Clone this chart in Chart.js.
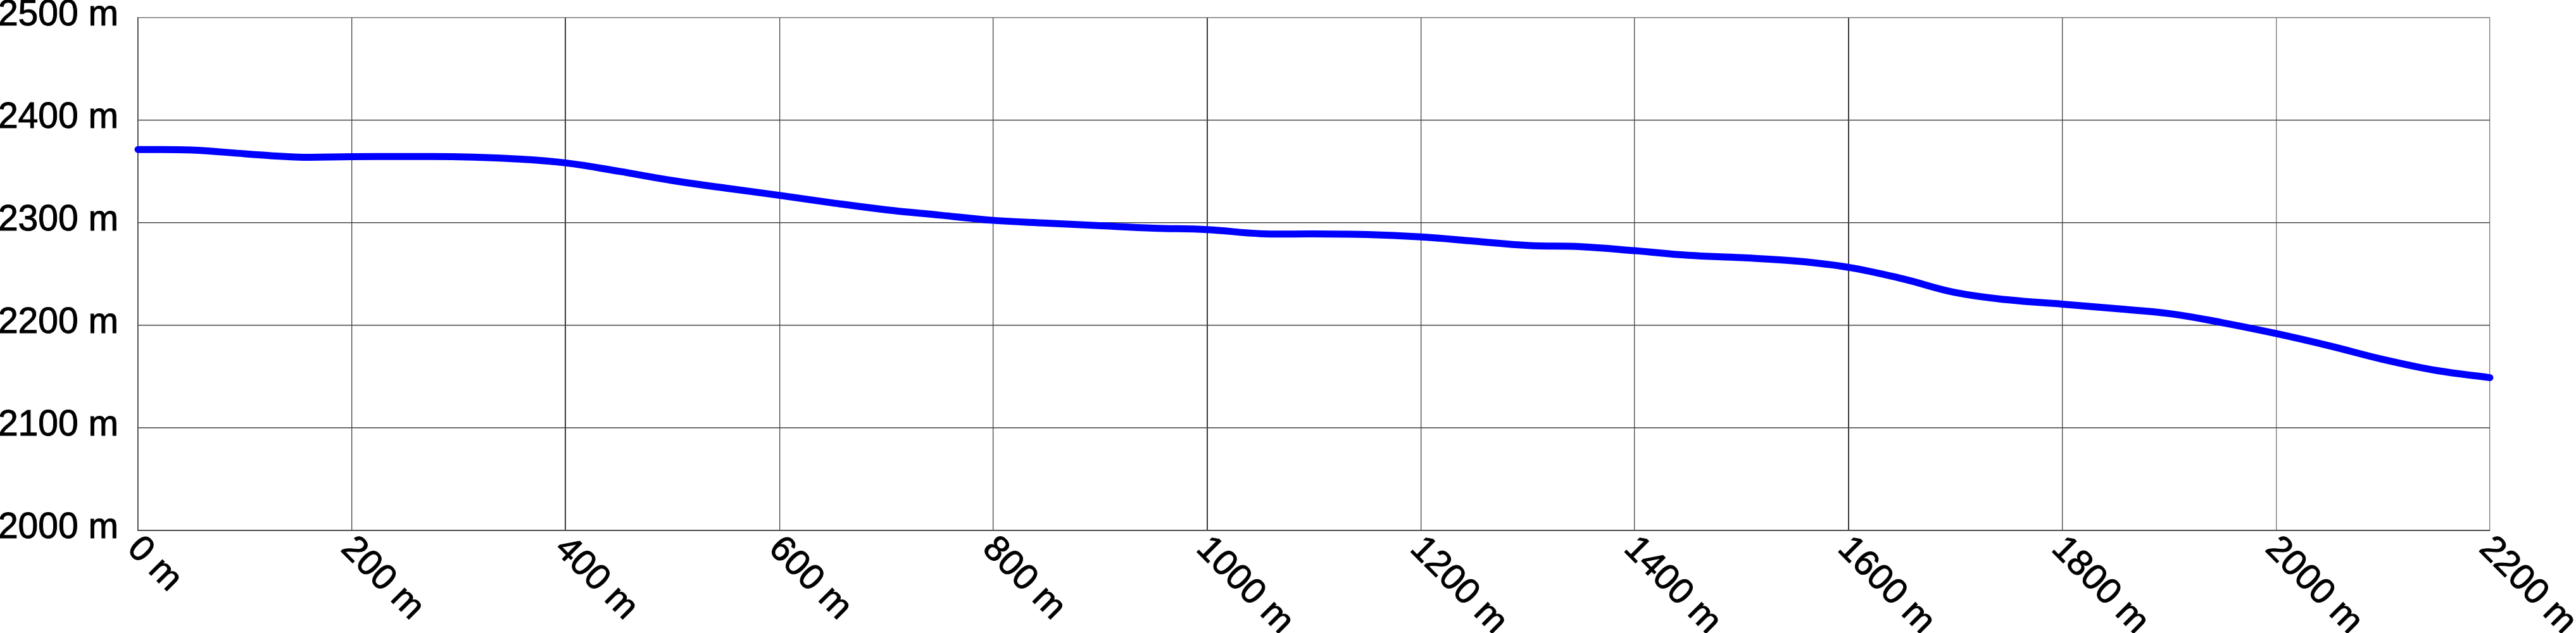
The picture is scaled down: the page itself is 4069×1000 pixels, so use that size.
<!DOCTYPE html>
<html>
<head>
<meta charset="utf-8">
<script src="https://cdn.jsdelivr.net/npm/chart.js@4"></script>
<style>
html,body{margin:0;padding:0;background:#fff;}
#wrap{width:4069px;height:1000px;}
</style>
</head>
<body>
<div id="wrap"><canvas id="c" width="4069" height="1000"></canvas></div>
<script>
// distance along route (m)
const distances = [0,50,100,150,200,250,300,350,400,450,500,550,600,650,700,750,800,850,900,950,1000,1050,1100,1150,1200,1250,1300,1350,1400,1450,1500,1550,1600,1650,1700,1750,1800,1850,1900,1950,2000,2050,2100,2150,2200];
// elevation (m)
const elevations = [2371.5,2371,2367.3,2364,2364.5,2364.6,2364.4,2362.5,2358.4,2350.2,2341.2,2333.8,2326.8,2319.4,2312.7,2307.5,2302.4,2299.7,2297.2,2294.8,2293.4,2289.4,2289.2,2288.6,2286.2,2282.1,2277.9,2276.7,2272.8,2268.3,2266,2262.8,2256.6,2245.6,2232,2224.8,2220.7,2216.3,2211.5,2202.6,2192,2180,2166.8,2156,2149];

const xTicks = [0,200,400,600,800,1000,1200,1400,1600,1800,2000,2200];
const xTickLabels = ['0 m','200 m','400 m','600 m','800 m','1000 m','1200 m','1400 m','1600 m','1800 m','2000 m','2200 m'];
const yTicks = [2000,2100,2200,2300,2400,2500];
const yTickLabels = ['2000 m','2100 m','2200 m','2300 m','2400 m','2500 m'];

const FONT = "'Liberation Sans', Arial, sans-serif";
const FSIZE = 57;

const points = distances.map((d,i)=>({x:d,y:elevations[i]}));

const xLabelPlugin = {
  id:'xLabels',
  afterDraw(chart){
    const ctx = chart.ctx, xs = chart.scales.x, area = chart.chartArea;
    ctx.save();
    ctx.fillStyle = '#000';
    ctx.strokeStyle = '#000';
    ctx.lineWidth = 1;
    ctx.font = FSIZE + 'px ' + FONT;
    ctx.textAlign = 'left';
    ctx.textBaseline = 'middle';
    xTicks.forEach((v,i)=>{
      const px = xs.getPixelForValue(v);
      ctx.save();
      ctx.translate(px - 8, area.bottom + 20);
      ctx.rotate(Math.PI/4);
      ctx.strokeText(xTickLabels[i], 0, 0);
      ctx.fillText(xTickLabels[i], 0, 0);
      ctx.restore();
    });
    ctx.restore();
  }
};

const bgPlugin = {
  id:'bg',
  beforeDraw(chart){
    const ctx = chart.ctx;
    ctx.save(); ctx.fillStyle='#fff'; ctx.fillRect(0,0,chart.width,chart.height); ctx.restore();
  }
};

new Chart(document.getElementById('c'), {
  type:'line',
  data:{ datasets:[{
    data: points,
    borderColor:'#0000ff',
    borderWidth:11,
    pointRadius:0,
    tension:0.4,
    borderCapStyle:'round',
    borderJoinStyle:'round',
    fill:false,
    clip:false
  }]},
  options:{
    responsive:false,
    devicePixelRatio:1,
    animation:false,
    layout:{padding:{top:28,right:136,bottom:162,left:0}},
    plugins:{legend:{display:false},tooltip:{enabled:false},title:{display:false}},
    scales:{
      x:{
        type:'linear', min:0, max:2200,
        afterBuildTicks(scale){ scale.ticks = xTicks.map(v=>({value:v})); },
        afterFit(scale){ scale.height = 0; scale.paddingLeft = 0; scale.paddingRight = 0; },
        ticks:{display:false},
        grid:{
          drawTicks:false,
          color(ctx){ const v = ctx.tick && ctx.tick.value; if (v===400||v===1000||v===1600) return '#3a3a3a'; if (v===2000||v===2200) return '#777'; return '#444'; },
          lineWidth(ctx){ const v = ctx.tick && ctx.tick.value; return (v===400||v===1000||v===1600) ? 2 : 1.3; }
        },
        border:{display:true,color:'#333',width:1.5}
      },
      y:{
        type:'linear', min:2000, max:2500,
        afterBuildTicks(scale){ scale.ticks = yTicks.map(v=>({value:v})); },
        afterFit(scale){ scale.width = 218; scale.paddingTop = 0; scale.paddingBottom = 0; },
        ticks:{
          color:'#000', padding:31, labelOffset:-4,
          textStrokeColor:'#000', textStrokeWidth:1,
          font:{family:FONT, size:FSIZE, lineHeight:1},
          callback(v){ const i = yTicks.indexOf(v); return i>=0 ? yTickLabels[i] : ''; }
        },
        grid:{drawTicks:false,color(ctx){ return ctx.tick && ctx.tick.value===2500 ? '#777' : '#444'; },lineWidth:1.5},
        border:{display:true,color:'#333',width:1.5}
      }
    }
  },
  plugins:[bgPlugin, xLabelPlugin]
});
</script>
</body>
</html>
